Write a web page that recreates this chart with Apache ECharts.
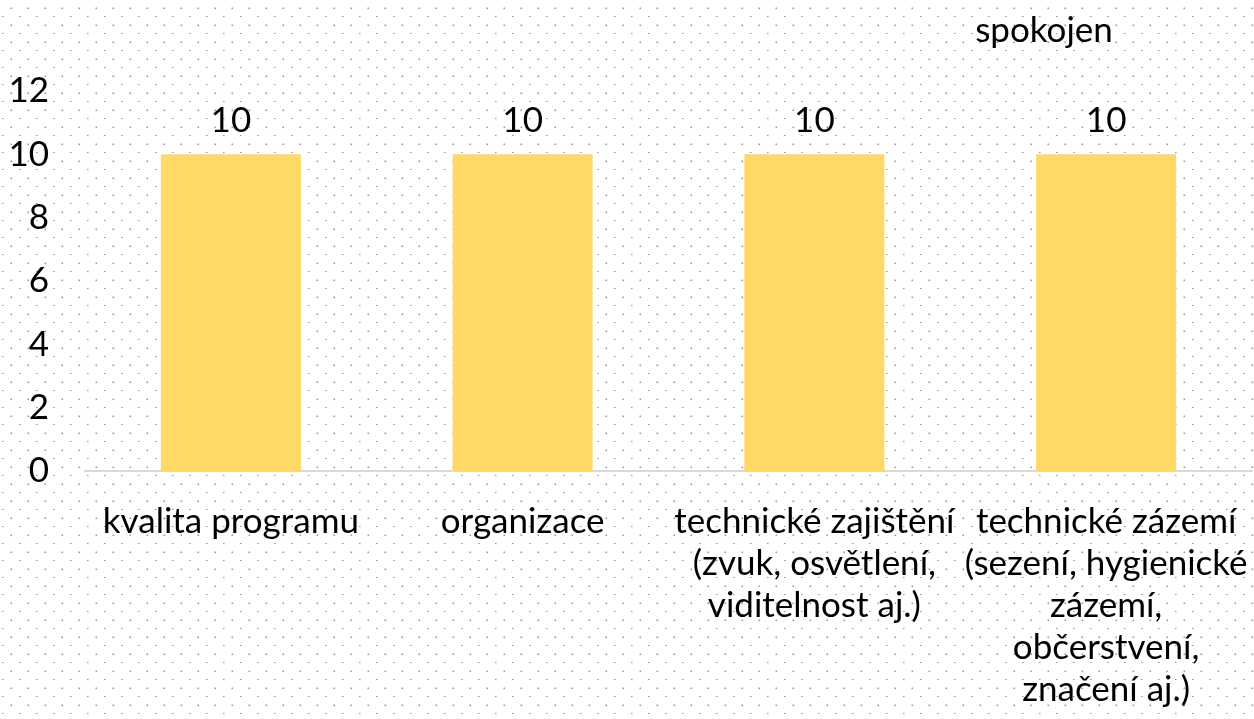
<!DOCTYPE html>
<html>
<head>
<meta charset="utf-8">
<script src="https://cdn.jsdelivr.net/npm/echarts@6/dist/echarts.min.js"></script>
<style>
  html, body { margin: 0; padding: 0; background: #fff; }
  #chart { width: 1254px; height: 719px; }
</style>
</head>
<body>
<div id="chart"></div>
<script>
// Satisfaction counts per surveyed area
const seriesName = 'spokojen';
const categories = [
  'kvalita programu',
  'organizace',
  'technické zajištění\n(zvuk, osvětlení,\nviditelnost aj.)',
  'technické zázemí\n(sezení, hygienické\nzázemí,\nobčerstvení,\nznačení aj.)'
];
const values = [10, 10, 10, 10];
const yTicks = [0, 2, 4, 6, 8, 10, 12];

const FONT = 'Lato';
const FS = 35;

// Dotted paper background: staggered grey dots on a 17px lattice
function dotPattern() {
  const c = document.createElement('canvas');
  c.width = 17; c.height = 17;
  const g = c.getContext('2d');
  g.fillStyle = '#fff';
  g.fillRect(0, 0, 17, 17);
  g.fillStyle = '#9a9a9a';
  g.fillRect(10.5, 7.5, 1.6, 1.6);
  g.fillRect(2, 16, 1.6, 1.6);
  return c;
}

const chart = echarts.init(document.getElementById('chart'), null, { renderer: 'canvas' });
chart.setOption({
  backgroundColor: { image: dotPattern(), repeat: 'repeat' },
  animation: false,
  title: {
    text: seriesName,
    left: 1039, top: 8, textAlign: 'center',
    textStyle: { fontFamily: FONT, fontSize: FS, fontWeight: 'normal', color: '#000' }
  },
  grid: { left: 85, right: 2, top: 91, bottom: 248, containLabel: false },
  xAxis: {
    type: 'category',
    data: categories,
    axisLine: { lineStyle: { color: '#d9d9d9', width: 2 } },
    axisTick: { show: false },
    axisLabel: {
      interval: 0, margin: 30,
      fontFamily: FONT, fontSize: FS, color: '#000', lineHeight: 42, align: 'center'
    }
  },
  yAxis: {
    type: 'value',
    min: yTicks[0], max: yTicks[yTicks.length - 1], interval: yTicks[1] - yTicks[0],
    axisLine: { show: false },
    axisTick: { show: false },
    splitLine: { show: false },
    axisLabel: { margin: 36, fontFamily: FONT, fontSize: FS, color: '#000' }
  },
  series: [{
    name: seriesName,
    type: 'bar',
    data: values,
    barWidth: '48%',
    itemStyle: { color: '#ffd966' },
    label: {
      show: true, position: 'top', distance: 16,
      fontFamily: FONT, fontSize: FS, color: '#000'
    }
  }]
});
</script>
</body>
</html>
